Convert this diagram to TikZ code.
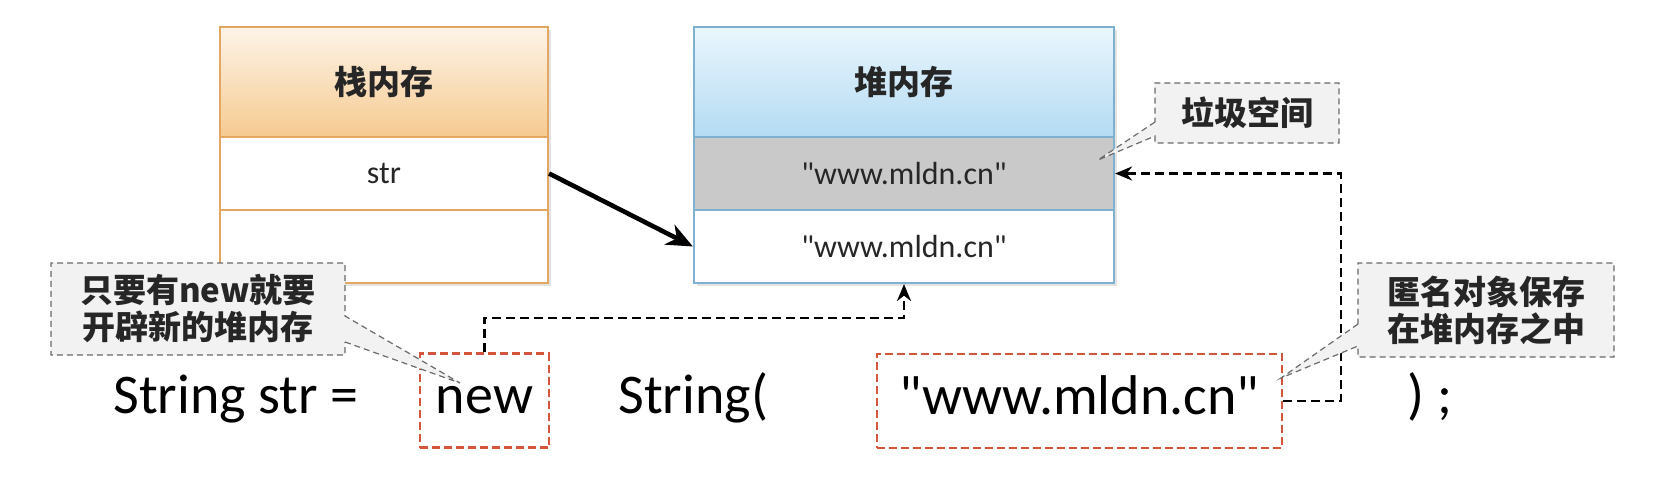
\documentclass[tikz,border=0pt]{standalone}
\usepackage{fontspec}
\setmainfont{Carlito}
\newfontfamily\carl{Carlito}
\newfontfamily\cjk{Noto Sans CJK SC}
\usetikzlibrary{shapes.callouts,arrows.meta,shadows}
\definecolor{stackbd}{HTML}{E4A663}
\definecolor{stacktop}{HTML}{FDF4E8}
\definecolor{stackbot}{HTML}{F6CA90}
\definecolor{heapbd}{HTML}{7EB0CF}
\definecolor{heaptop}{HTML}{EAF6FD}
\definecolor{heapbot}{HTML}{B4DBF3}
\definecolor{garbage}{HTML}{C9C9C9}
\definecolor{redd}{HTML}{D4553B}
\definecolor{notebd}{HTML}{6A6A6A}
\definecolor{notefill}{HTML}{F2F2F2}
\definecolor{txt}{HTML}{262626}
\begin{document}
\begin{tikzpicture}[x=0.5pt,y=-0.5pt,
  cellfont/.style={font=\carl\fontsize{16}{18}\selectfont, text=txt},
  headfont/.style={font=\cjk\bfseries\fontsize{16.5}{18}\selectfont, text=txt},
  boxshadow/.style={drop shadow={opacity=.22, shadow xshift=1.5pt, shadow yshift=-1.5pt}},
  stackcell/.style={draw=stackbd, line width=1.1pt, fill=white, minimum width=164pt, inner sep=0pt, boxshadow},
  heapcell/.style={draw=heapbd, line width=1.1pt, fill=white, minimum width=210pt, inner sep=0pt, boxshadow},
  redbox/.style={draw=redd, line width=1.3pt, dash pattern=on 4pt off 2pt, inner sep=0pt,
    minimum height=47pt, text height=19pt, text depth=6pt, font=\carl\fontsize{28}{30}\selectfont},
  code/.style={anchor=base west, inner sep=0pt, font=\carl\fontsize{28}{30}\selectfont},
  note/.style={rectangle callout, draw=notebd, fill=notefill, line width=0.6pt, densely dashed,
    inner sep=0pt, align=center, text=txt, font=\cjk\bfseries\fontsize{16.5}{18.5}\selectfont},
  dasharrow/.style={line width=1.4pt, dash pattern=on 4.5pt off 2.5pt, -{Stealth[length=8.5pt,width=7pt]}},
  bigarrow/.style={line width=2.3pt, -{Stealth[length=13pt,width=11pt,inset=4pt]}}
]
\useasboundingbox (0,0) rectangle (1656,488);

% stack memory
\node[stackcell, minimum height=55pt, top color=stacktop, bottom color=stackbot, headfont] (sh) at (384,82) {栈内存};
\node[stackcell, minimum height=36.5pt, cellfont] (sr1) at (384,173.5) {str};
\node[stackcell, minimum height=36.5pt] (sr2) at (384,246.5) {};

% heap memory
\node[heapcell, minimum height=55pt, top color=heaptop, bottom color=heapbot, headfont] (hh) at (904,82) {堆内存};
\node[heapcell, minimum height=36.5pt, fill=garbage, cellfont] (hr1) at (904,173.5) {"www.mldn.cn"};
\node[heapcell, minimum height=36.5pt, cellfont] (hr2) at (904,246.5) {"www.mldn.cn"};

% code line
\node[code] (c1) at (113,413) {String str =};
\node[redbox, minimum width=64.5pt] (newb) at (484.5,400.5) {new};
\node[code] (c2) at (618,413) {String(};
\node[redbox, minimum width=202.5pt] (wbox) at (1079.5,401) {"www.mldn.cn"};
\node[code] (c3) at (1407,413) {) ;};

% connectors
\draw[bigarrow] (sr1.east) -- (hr2.west);
\coordinate (m1) at (0,318);
\draw[dasharrow] (newb.north) |- (hr2.south |- m1) -- (hr2.south);
\coordinate (m2) at (1341,0);
\draw[dasharrow] (wbox.east) -- (wbox.east -| m2) -- (m2 |- hr1.east) -- (hr1.east);

% callouts
\coordinate (p1) at (460,383);
\coordinate (p2) at (1098,160);
\coordinate (p3) at (1281,378);
\node[note, minimum width=147pt, minimum height=46pt, callout absolute pointer={(p1)}, callout pointer width=13pt] (n1) at (198,309) {只要有new就要\\开辟新的堆内存};
\node[note, minimum width=92pt, minimum height=30pt, callout absolute pointer={(p2)}, callout pointer width=7pt] (n2) at (1247,113) {垃圾空间};
\node[note, minimum width=128pt, minimum height=47pt, callout absolute pointer={(p3)}, callout pointer width=11pt] (n3) at (1486,310) {匿名对象保存\\在堆内存之中};
\end{tikzpicture}
\end{document}
